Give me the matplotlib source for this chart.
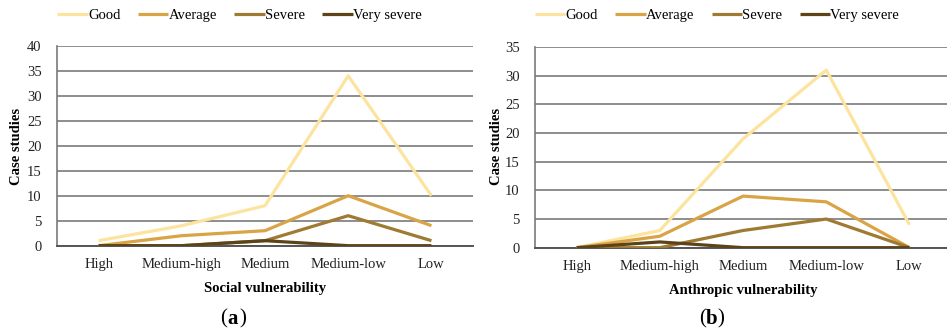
import matplotlib.pyplot as plt

plt.rcParams['font.family'] = ['Liberation Serif', 'DejaVu Serif']

levels = ["High", "Medium-high", "Medium", "Medium-low", "Low"]
series_names = ["Good", "Average", "Severe", "Very severe"]
colors = ["#FCE49F", "#D9A445", "#9E7A33", "#5C4418"]

# case studies per vulnerability level
social_good = [1, 4, 8, 34, 10]
social_average = [0, 2, 3, 10, 4]
social_severe = [0, 0, 1, 6, 1]
social_very_severe = [0, 0, 1, 0, 0]

anthropic_good = [0, 3, 19, 31, 4]
anthropic_average = [0, 2, 9, 8, 0]
anthropic_severe = [0, 0, 3, 5, 0]
anthropic_very_severe = [0, 1, 0, 0, 0]

panels = [
    dict(rect=[0.0602, 0.260, 0.4393, 0.602], ymax=40, xlabel="Social vulnerability",
         data=[social_good, social_average, social_severe, social_very_severe],
         tag="a", tag_x=0.240, ylab_x=0.017, leg_x=0.253),
    dict(rect=[0.565, 0.254, 0.4393, 0.604], ymax=35, xlabel="Anthropic vulnerability",
         data=[anthropic_good, anthropic_average, anthropic_severe, anthropic_very_severe],
         tag="b", tag_x=0.745, ylab_x=0.524, leg_x=0.757),
]

fig = plt.figure(figsize=(9.47, 3.32), dpi=100)

for p in panels:
    ax = fig.add_axes(p["rect"])
    x = range(len(levels))
    handles = []
    for name, vals, c in zip(series_names, p["data"], colors):
        h, = ax.plot(x, vals, color=c, lw=2.3, label=name, solid_capstyle="butt", zorder=3)
        handles.append(h)
    ax.set_xlim(-0.5, len(levels) - 0.5)
    ax.set_ylim(0, p["ymax"])
    ax.set_yticks(range(0, p["ymax"] + 1, 5))
    ax.set_xticks(list(x))
    ax.set_xticklabels(levels)
    ax.yaxis.grid(True, color="#7a7a7a", lw=1.2, zorder=1)
    ax.set_axisbelow(True)
    for s in ["top", "right"]:
        ax.spines[s].set_visible(False)
    ax.spines["left"].set_color("#7a7a7a")
    ax.spines["left"].set_linewidth(1.2)
    ax.spines["bottom"].set_color("#555555")
    ax.spines["bottom"].set_linewidth(1.4)
    ax.tick_params(length=0, labelsize=10.5, colors="#222222")
    ax.tick_params(axis="y", pad=11)
    ax.tick_params(axis="x", pad=9)
    ax.set_xlabel(p["xlabel"], fontsize=10.5, fontweight="bold", labelpad=8)
    fig.text(p["ylab_x"], 0.56, "Case studies", rotation=90, fontsize=10.5,
             fontweight="bold", ha="center", va="center")
    fig.legend(handles=handles, loc="center", bbox_to_anchor=(p["leg_x"], 0.953),
               ncol=4, frameon=False, fontsize=10.5, handlelength=2.1,
               handletextpad=0.0, columnspacing=1.2)
    # panel tag: "(" and ")" regular, letter bold
    fig.text(p["tag_x"], 0.040, "(", fontsize=15, ha="right", va="center")
    fig.text(p["tag_x"], 0.040, p["tag"], fontsize=15, fontweight="bold", ha="left", va="center")
    fig.text(p["tag_x"] + 0.0125, 0.040, ")", fontsize=15, ha="left", va="center")

fig.savefig("out.png", dpi=100)
